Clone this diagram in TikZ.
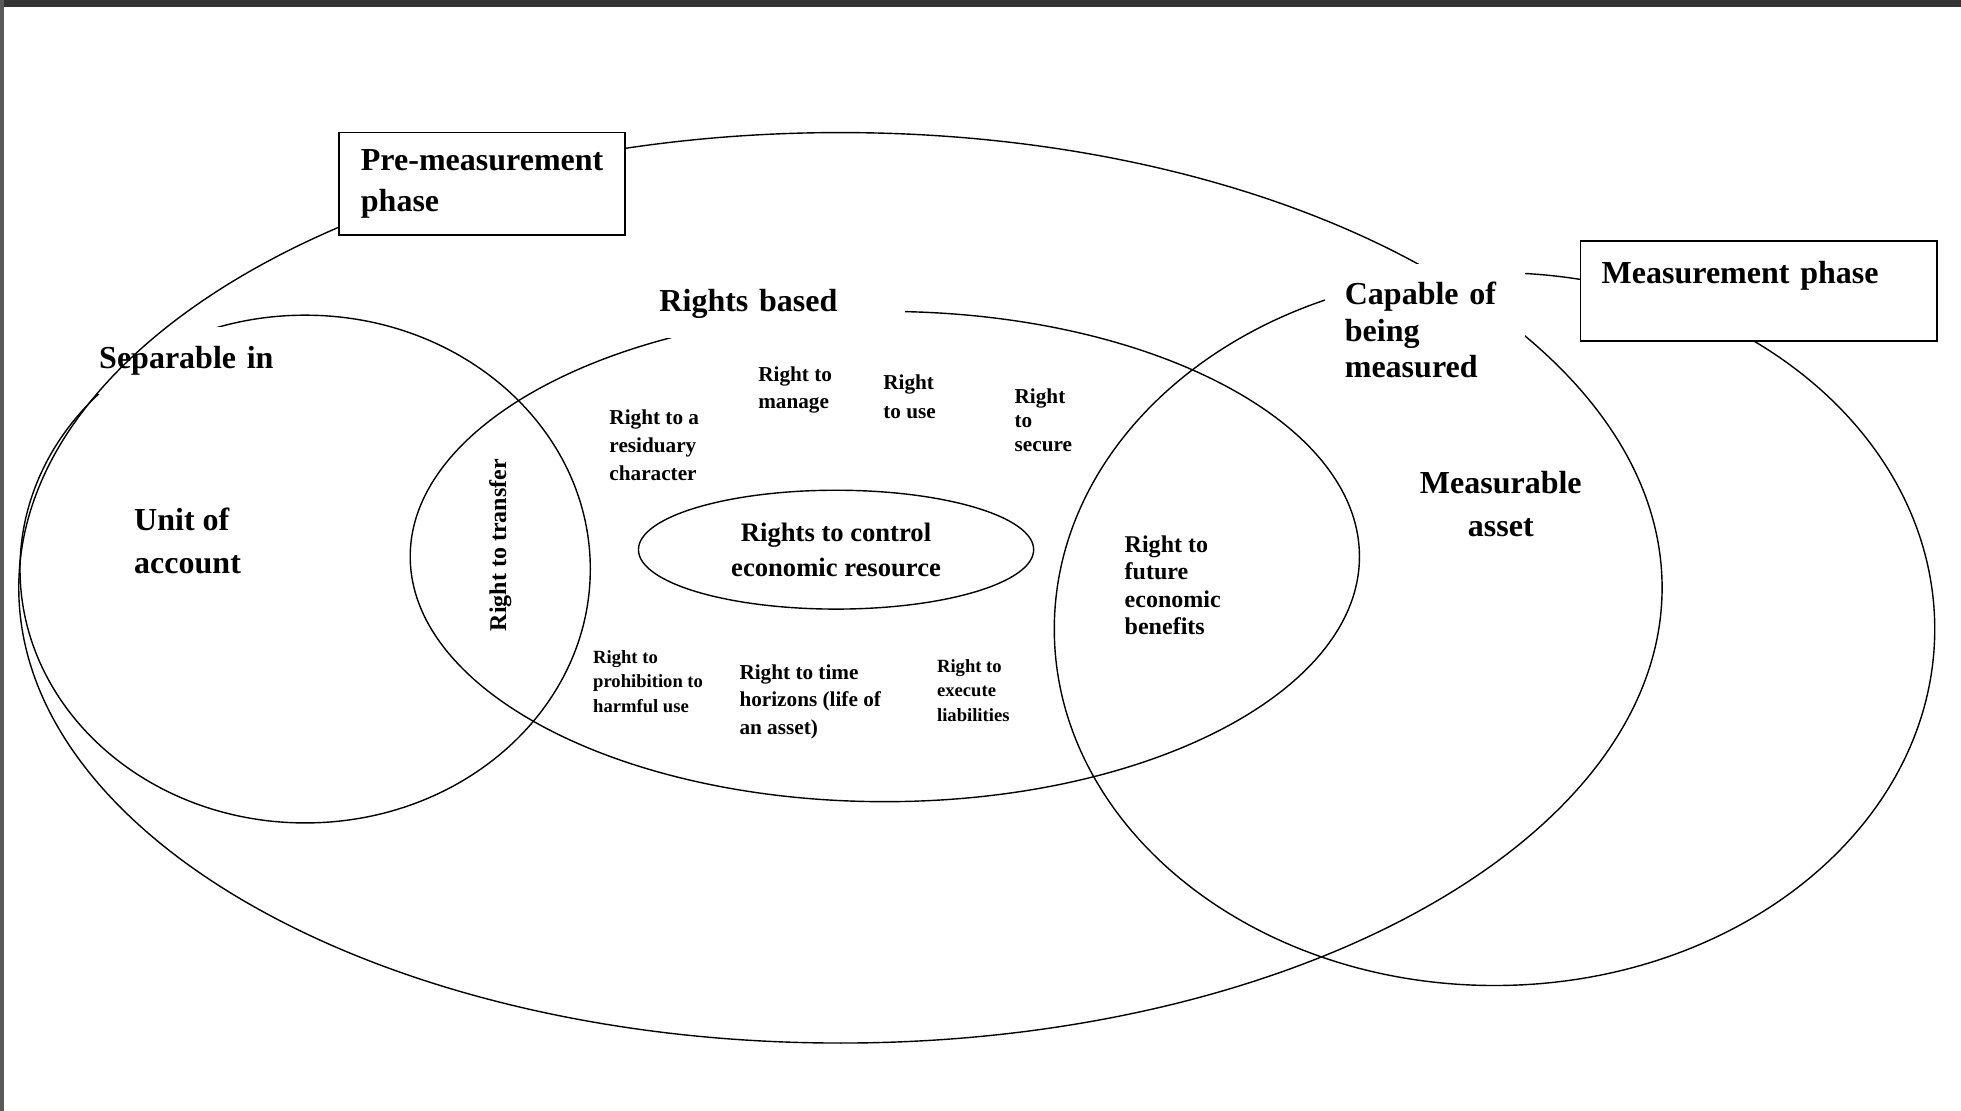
\documentclass[tikz,border=0pt]{standalone}
\usepackage{fontspec}
\setmainfont{Liberation Serif}
\usetikzlibrary{shapes.geometric}
\tikzset{
every node/.style={font=\bfseries}, % all the labels are bold
ring/.style={line width=0.7pt}, % outline of every ellipse
txt/.style 2 args={font=\bfseries\fontsize{#1}{#2}\selectfont, align=left, inner sep=0pt}, % plain label, size and leading
cover/.style={fill=white, inner ysep=0pt}, % label that hides the line behind it
phasebox/.style={draw, line width=0.9pt, fill=white}, % the two phase boxes
}
\begin{document}
\begin{tikzpicture}[x=0.625pt, y=-0.625pt]
\useasboundingbox (0,0) rectangle (1568,888);
\fill[black!80] (0,0) rectangle (1568,5.5);
\fill[black!65] (0,0) rectangle (3,888);

% unit of account
\draw[ring] (244,455) ellipse [x radius=228, y radius=203];
\node[txt={16}{21}, cover, anchor=north west, text width=95pt, inner xsep=10pt, text height=21pt, text depth=12.8pt] (separable) at (63,261) {Separable in};

% pre-measurement, rights based, measurable asset
\draw[ring] (672,470) ellipse [x radius=657, y radius=364];
\draw[ring] (707.5,445) ellipse [x radius=379.5, y radius=196];
\draw[ring] (1195,503) ellipse [x radius=352, y radius=285];
\node[ellipse, draw, ring, minimum width=197.5pt, minimum height=59.4pt, font=\bfseries\fontsize{13.3}{17.5}\selectfont, align=center] (control) at (668.5,439.5) {Rights to control\\economic resource};

\node[txt={16}{21}, cover, anchor=north west, text width=112.5pt, inner xsep=10pt, text height=16.6pt, text depth=13.4pt] (rights) at (511,222) {Rights based};
\node[txt={16}{18.4}, cover, anchor=north west, text width=80pt, inner xsep=10pt, minimum height=65.6pt] (capable) at (1059,211) {Capable of\\being\\measured};
\node[txt={16}{20.6}, phasebox, minimum width=143.1pt, minimum height=51.25pt] (pre) at (385.5,147) {Pre-measurement\\phase};
\node[txt={16}{21}, phasebox, anchor=north west, text width=157pt, inner xsep=10.6pt, text height=21pt, text depth=29pt] (meas) at (1263,192) {Measurement phase};

\node[txt={16}{21.9}, anchor=west] (unit) at (107,432.5) {Unit of\\account};
\node[txt={16}{21.25}, align=center] (asset) at (1200,403) {Measurable\\asset};
\node[txt={12}{14}, rotate=90] (transfer) at (400,436) {Right to transfer};
\node[txt={12}{13.75}, anchor=west] (future) at (899,468) {Right to\\future\\economic\\benefits};
\node[txt={10.6}{14}, anchor=west] (residual) at (487,356) {Right to a\\residuary\\character};
\node[txt={10.6}{13.75}, anchor=west] (manage) at (606,312) {Right to\\manage};
\node[txt={10.6}{14.4}, anchor=west] (use) at (706,317) {Right\\to use};
\node[txt={10.6}{12.2}, anchor=west] (secure) at (811,336) {Right\\to\\secure};
\node[txt={9.3}{12.2}, anchor=west] (prohibit) at (474,545) {Right to\\prohibition to\\harmful use};
\node[txt={10.6}{13.75}, anchor=west] (horizon) at (591,561) {Right to time\\horizons (life of\\an asset)};
\node[txt={9.3}{12.2}, anchor=west] (execute) at (749,552) {Right to\\execute\\liabilities};
\end{tikzpicture}
\end{document}
